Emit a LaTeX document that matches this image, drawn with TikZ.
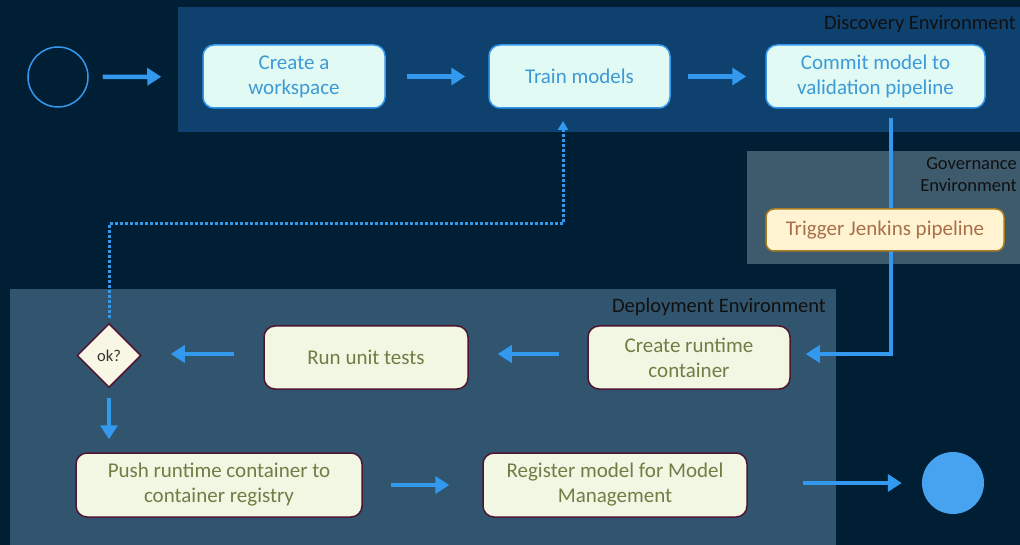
\documentclass[tikz,border=0pt]{standalone}
\usepackage{fontspec}
\setmainfont{Carlito}
\usetikzlibrary{arrows.meta,shapes.geometric}
\pgfdeclarelayer{panels}
\pgfdeclarelayer{lines}
\pgfsetlayers{panels,lines,main}
\definecolor{bgc}{HTML}{001F34}
\definecolor{discc}{HTML}{0F416F}
\definecolor{govc}{HTML}{3E5B6E}
\definecolor{depc}{HTML}{32556F}
\definecolor{arrc}{HTML}{3399EE}
\definecolor{mintc}{HTML}{E2FAF4}
\definecolor{minttext}{HTML}{3C9AD6}
\definecolor{creamc}{HTML}{F1F7E3}
\definecolor{diamc}{HTML}{F8F6E4}
\definecolor{olivetext}{HTML}{6E7E44}
\definecolor{maroonc}{HTML}{4E1430}
\definecolor{jenkfill}{HTML}{FFF3D2}
\definecolor{jenkborder}{HTML}{A87C20}
\definecolor{jenktext}{HTML}{A8704A}
\definecolor{labelc}{HTML}{101010}
\tikzset{
  x=1pt, y=-1pt,
  mintbox/.style={draw=arrc, line width=1.5pt, fill=mintc, rounded corners=11pt,
    text=minttext, font=\fontsize{21}{25}\selectfont, align=center, inner sep=0pt},
  creambox/.style={draw=maroonc, line width=1.5pt, fill=creamc, rounded corners=11pt,
    text=olivetext, font=\fontsize{21}{25}\selectfont, align=center, inner sep=0pt},
  jenkbox/.style={draw=jenkborder, line width=1.5pt, fill=jenkfill, rounded corners=8pt,
    text=jenktext, font=\fontsize{21}{25}\selectfont, align=center, inner sep=0pt},
  flow/.style={draw=arrc, line width=4.5pt, -{Triangle[length=14pt,width=17pt]}},
  thinflow/.style={draw=arrc, line width=4pt, -{Triangle[length=14pt,width=17pt]}},
  dotflow/.style={draw=arrc, line width=3pt, dash pattern=on 3pt off 2pt, -{Triangle[length=9pt,width=10pt]}},
  envlabel/.style={text=labelc, font=\fontsize{20.5}{22}\selectfont, inner sep=0pt, align=right},
}
\begin{document}
\begin{tikzpicture}
\useasboundingbox (0,0) rectangle (1020,545);
\begin{pgfonlayer}{panels}
  \fill[bgc] (0,0) rectangle (1020,545);
  \fill[discc] (178,7) rectangle (1020,132);
  \fill[govc] (747,151) rectangle (1020,264);
  \fill[depc] (10,289) rectangle (836,545);
\end{pgfonlayer}
\node[envlabel, anchor=east] (disclbl) at (1016,24) {Discovery Environment};
\node[envlabel, anchor=north east, font=\fontsize{18.5}{22}\selectfont] (govlbl) at (1017,157) {Governance\\Environment};
\node[envlabel, anchor=east] (deplbl) at (826,307) {Deployment Environment};

\node[circle, draw=arrc, line width=1.5pt, minimum size=60pt, inner sep=0pt] (start) at (58,77) {};
\node[mintbox, minimum width=182pt, minimum height=63pt] (ws) at (294,76.5) {Create a\\workspace};
\node[mintbox, minimum width=181pt, minimum height=63pt] (train) at (579.5,76.5) {Train models};
\node[mintbox, minimum width=219pt, minimum height=63pt] (commit) at (875.5,76.5) {Commit model to\\validation pipeline};
\node[jenkbox, minimum width=238pt, minimum height=42pt] (jenk) at (885,230) {Trigger Jenkins pipeline};
\node[creambox, minimum width=202pt, minimum height=63pt] (create) at (689,357.5) {Create runtime\\container};
\node[creambox, minimum width=204pt, minimum height=63pt] (unit) at (366,357.5) {Run unit tests};
\node[diamond, draw=maroonc, line width=1.5pt, fill=diamc, minimum width=64pt, minimum height=64pt, inner sep=0pt,
  text=black!80, font=\fontsize{16.5}{19}\selectfont] (ok) at (109,355.5) {ok?};
\node[creambox, minimum width=286pt, minimum height=64pt] (push) at (219,485) {Push runtime container to\\container registry};
\node[creambox, minimum width=264pt, minimum height=64pt] (reg) at (615,485) {Register model for Model\\Management};
\node[circle, fill=arrc!90!white, minimum size=62pt, inner sep=0pt] (end) at (953,483) {};

\coordinate (cbot) at (891,118);
\coordinate (cturn) at (891,354);
\coordinate (dtop) at (109,318);
\coordinate (dturn1) at (109,224);
\coordinate (dturn2) at (563,224);
\coordinate (dend) at (563,121);

\begin{pgfonlayer}{lines}
  \draw[flow, shorten <=14pt, shorten >=41pt] (start) -- (ws);
  \draw[flow, shorten <=21pt, shorten >=23pt] (ws) -- (train);
  \draw[flow, shorten <=17pt, shorten >=19pt] (train) -- (commit);
  \draw[thinflow, line join=miter] (cbot) -- (cturn) -- ([xshift=15pt]create.east |- cturn);
  \draw[flow, shorten <=28pt, shorten >=29pt] (create.west |- cturn) -- (unit.east |- cturn);
  \draw[flow, shorten <=29pt, shorten >=29pt] (unit.west |- cturn) -- (ok.east |- cturn);
  \draw[dotflow] (dtop) -- (dturn1) -- (dturn2) -- (dend);
  \draw[flow, shorten <=10pt, shorten >=13pt] (ok.south) -- (ok.south |- push.north);
  \draw[flow, shorten <=28pt, shorten >=33pt] (push.east) -- (push.east -| reg.west);
  \draw[flow, shorten <=55pt, shorten >=20pt] (reg.east |- end) -- (end.west);
\end{pgfonlayer}
\end{tikzpicture}
\end{document}
